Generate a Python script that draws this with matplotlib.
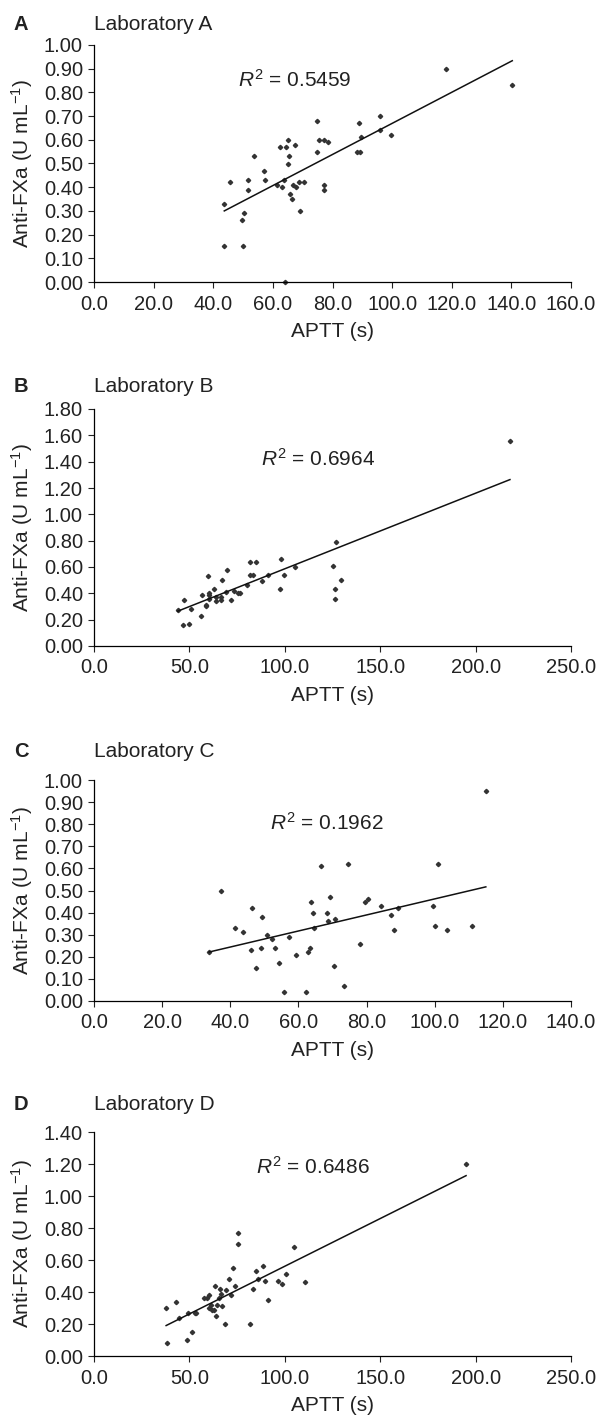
"""
Anti-FXa vs APTT scatter panels for four laboratories, with least-squares
trend line and R^2 annotation (stacked vertically, one panel per lab).
"""
import matplotlib
matplotlib.use("Agg")
import matplotlib.pyplot as plt
from matplotlib.ticker import MultipleLocator, FormatStrFormatter

OUT = "out.png"
W_PX, H_PX, DPI = 601, 1418, 100

plt.rcParams.update({
    "font.family": ["Liberation Sans", "DejaVu Sans"], "font.size": 14,
    "mathtext.fontset": "custom", "mathtext.rm": "Liberation Sans",
    "mathtext.it": "Liberation Sans:italic",
    "axes.spines.top": False, "axes.spines.right": False,
    "axes.linewidth": 0.9, "xtick.major.size": 4, "ytick.major.size": 4,
    "xtick.major.width": 0.8, "ytick.major.width": 0.8,
})

# ---- data ----
LABS = ["A", "B", "C", "D"]

APTT_A = [43.7, 45.6, 43.7, 49.5, 50.4, 50.1, 51.8, 51.8, 53.6, 56.9, 57.4, 61.3,
          62.3, 63.0, 63.7, 64.3, 63.9, 65.2, 65.5, 65.2, 65.9, 66.4, 66.8, 67.5,
          67.7, 68.8, 69.1, 70.3, 74.7, 74.7, 75.6, 77.1, 77.1, 77.1, 78.5, 88.8,
          88.2, 89.1, 89.6, 96.1, 96.1, 99.6, 118.2, 140.3]
FXA_A = [0.33, 0.42, 0.15, 0.26, 0.29, 0.15, 0.43, 0.39, 0.53, 0.47, 0.43, 0.41,
         0.57, 0.40, 0.43, 0.57, 0.00, 0.60, 0.53, 0.50, 0.37, 0.35, 0.41, 0.58,
         0.40, 0.42, 0.30, 0.42, 0.68, 0.55, 0.60, 0.60, 0.41, 0.39, 0.59, 0.67,
         0.55, 0.55, 0.61, 0.70, 0.64, 0.62, 0.90, 0.83]

APTT_B = [43.8, 47.4, 46.8, 49.8, 50.8, 56.0, 56.8, 58.6, 58.8, 60.0, 60.2, 60.4,
          60.2, 62.9, 63.7, 64.1, 66.3, 66.7, 67.1, 69.3, 69.7, 71.9, 73.3, 75.3,
          76.5, 80.1, 81.9, 81.9, 83.3, 85.1, 88.2, 91.4, 97.6, 98.2, 99.4, 105.2,
          125.1, 126.7, 126.5, 126.1, 129.5, 218.0]
FXA_B = [0.27, 0.35, 0.16, 0.17, 0.28, 0.23, 0.39, 0.31, 0.30, 0.53, 0.39, 0.40,
         0.36, 0.43, 0.34, 0.37, 0.37, 0.35, 0.50, 0.41, 0.58, 0.35, 0.42, 0.40,
         0.40, 0.46, 0.64, 0.54, 0.54, 0.64, 0.49, 0.54, 0.43, 0.66, 0.54, 0.60,
         0.61, 0.79, 0.43, 0.36, 0.50, 1.56]

APTT_C = [33.8, 37.4, 41.5, 43.6, 46.2, 46.4, 47.6, 49.1, 49.4, 50.7, 52.3, 53.2,
          54.3, 55.7, 57.2, 59.3, 62.1, 62.7, 63.3, 63.8, 64.4, 64.7, 66.7, 68.5,
          68.8, 69.4, 70.3, 70.6, 73.4, 74.6, 78.2, 79.5, 80.4, 84.2, 87.1, 88.0,
          89.2, 99.5, 100.1, 100.9, 103.5, 111.0, 115.0]
FXA_C = [0.22, 0.50, 0.33, 0.31, 0.23, 0.42, 0.15, 0.24, 0.38, 0.30, 0.28, 0.24,
         0.17, 0.04, 0.29, 0.21, 0.04, 0.22, 0.24, 0.45, 0.40, 0.33, 0.61, 0.40,
         0.36, 0.47, 0.16, 0.37, 0.07, 0.62, 0.26, 0.45, 0.46, 0.43, 0.39, 0.32,
         0.42, 0.43, 0.34, 0.62, 0.32, 0.34, 0.95]

APTT_D = [37.8, 38.4, 43.0, 44.8, 49.2, 49.0, 51.6, 52.8, 53.6, 57.4, 59.4, 60.4,
          60.2, 61.2, 61.8, 62.9, 63.3, 63.9, 64.3, 65.3, 65.9, 66.5, 66.9, 68.5,
          69.3, 70.9, 71.9, 72.7, 74.1, 75.3, 75.3, 81.7, 83.1, 85.1, 85.7, 88.4,
          89.4, 91.4, 96.6, 98.6, 100.6, 104.6, 110.8, 195.0]
FXA_D = [0.30, 0.08, 0.34, 0.24, 0.27, 0.10, 0.15, 0.27, 0.27, 0.36, 0.36, 0.38,
         0.30, 0.32, 0.29, 0.29, 0.44, 0.25, 0.32, 0.36, 0.42, 0.39, 0.31, 0.20,
         0.41, 0.48, 0.38, 0.55, 0.44, 0.77, 0.70, 0.20, 0.42, 0.53, 0.48, 0.56,
         0.47, 0.35, 0.47, 0.45, 0.51, 0.68, 0.46, 1.20]

# trend line (slope, intercept) and R^2 as printed
FIT_SLOPE = [0.00656, 0.00574, 0.00363, 0.00596]
FIT_INTERCEPT = [0.0133, 0.0125, 0.099, -0.035]
R2 = ["0.5459", "0.6964", "0.1962", "0.6486"]

XMAX = [160, 250, 140, 250]
XSTEP = [20, 50, 20, 50]
YMAX = [1.00, 1.80, 1.00, 1.40]
YSTEP = [0.10, 0.20, 0.10, 0.20]
R2_POS = [(48.2, 0.852), (87.3, 1.425), (51.7, 0.804), (84.9, 1.181)]

# ---- layout in pixels (top, bottom of each plot box) ----
AX_LEFT, AX_RIGHT = 94, 571
AX_TB = [(45, 282), (409, 646), (780, 1001), (1132, 1356)]
TITLE_Y = [24, 386, 752, 1104]
YLABEL_X = 35          # right edge of the rotated y label
DOT = "#333333"
INK = "#222222"


def panel(fig, i, xs, ys):
    top, bot = AX_TB[i]
    ax = fig.add_axes([AX_LEFT / W_PX, 1 - bot / H_PX,
                       (AX_RIGHT - AX_LEFT) / W_PX, (bot - top) / H_PX])
    ax.plot(xs, ys, ls="none", marker="D", ms=2.2, color=DOT, mec=DOT, clip_on=False)
    x0, x1 = min(xs), max(xs)
    ax.plot([x0, x1], [FIT_SLOPE[i] * x0 + FIT_INTERCEPT[i], FIT_SLOPE[i] * x1 + FIT_INTERCEPT[i]],
            color="#111111", lw=1.1)
    ax.set_xlim(0, XMAX[i]); ax.set_ylim(0, YMAX[i])
    ax.xaxis.set_major_locator(MultipleLocator(XSTEP[i]))
    ax.yaxis.set_major_locator(MultipleLocator(YSTEP[i]))
    ax.xaxis.set_major_formatter(FormatStrFormatter("%.1f"))
    ax.yaxis.set_major_formatter(FormatStrFormatter("%.2f"))
    ax.tick_params(axis="both", direction="out", labelsize=14.5, colors=INK, labelcolor=INK)
    ax.tick_params(axis="x", pad=5)
    ax.tick_params(axis="y", pad=4)
    ax.set_xlabel("APTT (s)", fontsize=15, labelpad=6, color=INK)
    ax.set_ylabel(r"Anti-FXa (U mL$^{-1}$)", fontsize=15, color=INK)
    ax.yaxis.set_label_coords(-(AX_LEFT - YLABEL_X) / (AX_RIGHT - AX_LEFT), 0.5)
    rx, ry = R2_POS[i]
    ax.text(rx, ry, r"$\mathit{R}^{2}$ = " + R2[i], fontsize=15, ha="left", va="center",
            color=INK)
    ty = 1 - TITLE_Y[i] / H_PX
    fig.text(14 / W_PX, ty, LABS[i], fontsize=14.5, fontweight="bold", ha="left", va="center",
             color=INK)
    fig.text(AX_LEFT / W_PX, ty, f"Laboratory {LABS[i]}", fontsize=15, ha="left", va="center",
             color=INK)
    return ax


def main():
    fig = plt.figure(figsize=(W_PX / DPI, H_PX / DPI), dpi=DPI)
    data = [(APTT_A, FXA_A), (APTT_B, FXA_B), (APTT_C, FXA_C), (APTT_D, FXA_D)]
    for i, (xs, ys) in enumerate(data):
        panel(fig, i, xs, ys)
    fig.savefig(OUT, dpi=DPI)
    plt.close(fig)


if __name__ == "__main__":
    main()
